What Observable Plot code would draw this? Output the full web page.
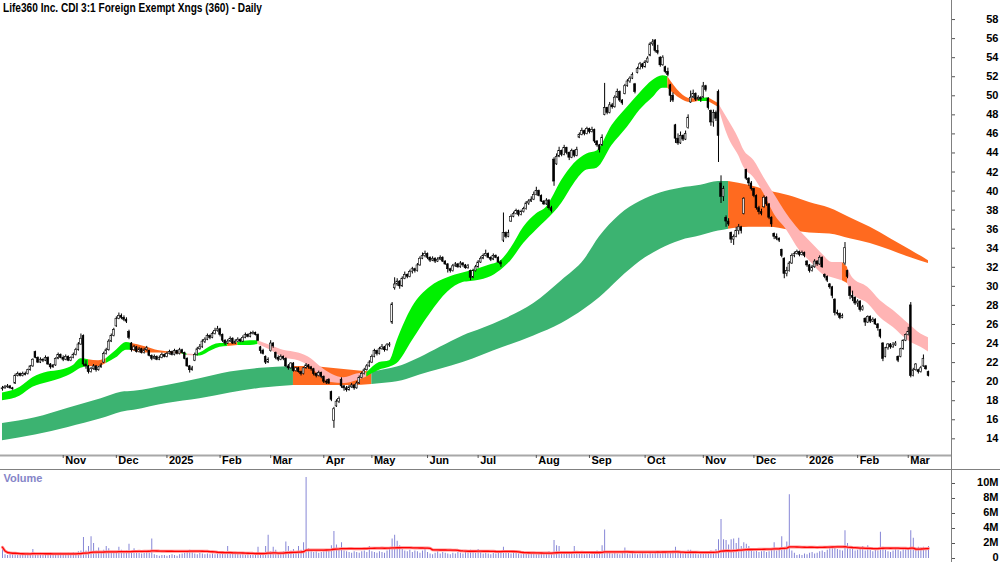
<!DOCTYPE html>
<html><head><meta charset="utf-8">
<script src="https://cdn.jsdelivr.net/npm/d3@7"></script>
<script src="https://cdn.jsdelivr.net/npm/@observablehq/plot@0.6"></script>
<style>
body{margin:0;background:#fff;}
#wrap{position:relative;width:1000px;height:562px;overflow:hidden;background:#fff;font-family:"Liberation Sans",Arial,sans-serif;}
#price,#vol{position:absolute;left:0;}
#price{top:0}
#vol{top:470px}
#title{position:absolute;left:0;top:0}
.vline{position:absolute;left:951px;top:0;width:1px;height:562px;background:#808080}
.hline{position:absolute;left:0;top:469px;width:1000px;height:1px;background:#808080}
</style></head><body>
<div id="wrap">
<div id="price"></div>
<div id="vol"></div>
<svg id="title" width="420" height="20"><text x="3" y="12" font-family="Liberation Sans, Arial, sans-serif" font-weight="bold" font-size="12" textLength="259" lengthAdjust="spacingAndGlyphs" fill="#000">Life360 Inc. CDI 3:1 Foreign Exempt Xngs (360) - Daily</text></svg>
<div class="vline"></div>
<div class="hline"></div>
</div>
<script>
// ---- calendar ----
const startDate = "2024-09-30";
const holidays = ["2024-12-25","2024-12-26","2025-01-01","2025-01-27","2025-04-18","2025-04-21","2025-04-25","2025-06-09","2025-12-25","2025-12-26","2026-01-01","2026-01-26"];
const monthShort = ["Jan","Feb","Mar","Apr","May","Jun","Jul","Aug","Sep","Oct","Nov","Dec"];

// ---- daily candles [open, high, low, close] ----
const candles = [
// Sep 30 2024 + Oct 2024
[19.2,19.5,19.0,19.3],[19.3,19.6,19.2,19.4],[19.4,19.7,19.3,19.5],[19.5,19.6,19.2,19.3],[19.3,19.4,19.1,19.2],
[19.8,20.8,19.7,20.6],[20.6,21.0,20.5,20.8],[20.8,20.9,20.5,20.6],[20.6,21.0,20.5,20.8],[20.8,21.0,20.6,20.7],
[20.8,21.3,20.7,21.2],[21.2,21.7,21.1,21.6],[21.6,22.4,21.5,22.3],[23.1,23.2,22.4,22.5],[22.5,22.6,21.9,22.0],
[22.0,22.5,21.9,22.3],[22.3,22.4,22.0,22.2],[22.2,22.7,22.1,22.5],[22.5,22.6,21.7,21.8],[21.8,21.9,21.3,21.5],
[21.5,21.8,21.4,21.7],[21.7,22.5,21.6,22.4],[22.4,23.0,22.3,22.8],[22.8,22.9,22.4,22.5],
// Nov 2024
[22.5,22.7,22.1,22.3],[22.3,22.8,22.2,22.6],[22.6,22.7,22.1,22.2],[22.2,22.6,22.1,22.5],[22.5,23.0,22.4,22.8],
[22.8,23.5,22.7,23.3],[23.3,24.1,23.2,23.9],[23.9,25.0,23.8,24.5],[24.8,24.9,21.6,21.8],[21.8,22.2,21.3,21.6],
[21.6,21.7,20.8,21.0],[21.0,21.5,20.9,21.3],[21.3,21.8,21.2,21.6],[21.6,21.7,21.0,21.2],[21.2,21.6,21.1,21.5],
[21.5,21.9,21.4,21.7],[22.0,23.1,21.9,22.9],[22.9,23.5,22.8,23.3],[23.3,24.4,23.2,24.2],[24.2,25.0,24.1,24.8],
[24.8,25.6,24.7,25.4],
// Dec 2024
[25.8,26.8,25.7,26.6],[26.6,27.2,26.5,26.9],[26.9,27.1,26.5,26.7],[26.7,26.9,26.3,26.5],[26.5,26.7,26.1,26.3],
[25.2,25.4,24.4,24.6],[24.0,24.1,23.1,23.3],[23.3,23.8,23.2,23.6],[23.6,23.7,23.0,23.1],[23.1,23.6,23.0,23.4],
[23.4,23.5,22.9,23.0],[23.0,23.5,22.9,23.3],[23.3,23.7,23.2,23.5],[23.2,23.3,22.6,22.7],[22.7,22.8,22.2,22.4],
[22.4,22.8,22.3,22.6],[22.6,22.7,22.2,22.3],[22.3,22.7,22.2,22.5],[22.5,23.0,22.4,22.8],[22.8,22.9,22.5,22.6],
// Jan 2025
[22.6,23.1,22.5,22.9],[22.9,23.3,22.8,23.1],[23.1,23.2,22.7,22.8],[22.8,23.4,22.7,23.2],[23.2,23.3,22.8,22.9],
[22.9,23.5,22.8,23.3],[23.3,23.4,22.9,23.0],[23.0,23.1,22.3,22.4],[22.4,22.5,21.5,21.6],[21.6,21.7,20.9,21.2],
[21.2,21.6,21.1,21.4],[22.2,23.0,22.1,22.8],[22.8,23.6,22.7,23.4],[23.4,23.9,23.3,23.6],[23.6,24.4,23.5,24.2],
[24.2,24.6,24.0,24.4],[24.4,25.0,24.3,24.8],[24.8,24.9,24.4,24.6],[24.6,25.2,24.5,25.0],[25.0,25.6,24.9,25.3],
[25.3,25.8,25.2,25.5],
// Feb 2025
[25.5,25.6,24.7,24.9],[24.9,25.0,24.1,24.3],[24.3,24.4,23.8,24.0],[24.0,24.4,23.9,24.2],[24.2,24.7,24.1,24.5],
[24.5,24.6,23.9,24.0],[24.0,24.4,23.9,24.2],[24.2,24.6,24.1,24.4],[24.4,24.5,24.1,24.2],[24.2,24.8,24.1,24.6],
[24.6,25.1,24.5,24.9],[24.9,25.0,24.6,24.7],[24.7,25.2,24.6,25.0],[25.0,25.3,24.9,25.1],[25.1,25.2,24.8,24.9],
[24.9,25.0,24.2,24.3],[23.6,23.7,22.9,23.2],[23.2,23.4,22.8,22.9],[22.6,22.7,21.8,22.0],[22.0,22.5,21.9,22.3],
// Mar 2025
[23.2,24.3,23.1,24.0],[24.0,24.1,23.5,23.7],[23.0,23.1,22.3,22.5],[22.5,22.7,22.1,22.3],[22.3,22.8,22.2,22.6],
[22.6,22.7,22.2,22.4],[22.4,22.5,21.5,21.6],[21.6,21.8,21.2,21.4],[21.4,22.0,21.3,21.9],[21.9,22.0,21.0,21.1],
[21.1,21.5,21.0,21.4],[21.4,21.5,20.9,21.0],[21.0,21.1,20.6,20.8],[20.8,21.5,20.7,21.4],[21.4,21.9,21.3,21.7],
[21.7,21.8,21.3,21.5],[21.5,21.6,21.1,21.3],[21.3,21.4,20.6,20.8],[20.8,20.9,20.4,20.6],[20.6,21.1,20.5,20.9],
[20.9,21.0,20.3,20.5],
// Apr 2025
[20.5,20.6,19.8,20.0],[20.0,20.2,19.7,19.9],[20.2,20.3,19.7,19.8],[18.9,19.0,17.9,18.1],[15.9,17.3,15.1,17.1],
[17.4,18.1,17.3,17.9],[17.9,18.4,17.7,18.2],[20.2,20.4,19.3,19.5],[19.5,19.6,19.0,19.3],[19.3,19.5,18.9,19.1],
[19.1,19.6,19.0,19.4],[19.4,19.8,19.3,19.6],[19.6,19.7,19.1,19.3],[19.3,20.0,19.2,19.8],[19.8,20.6,19.7,20.4],
[20.4,21.0,20.3,20.8],[20.8,21.4,20.7,21.2],[21.2,21.8,21.1,21.6],[21.6,22.2,21.5,22.0],
// May 2025
[22.0,22.8,21.9,22.6],[22.6,23.4,22.5,23.2],[23.2,23.3,22.7,22.9],[22.9,23.6,22.8,23.4],[23.4,23.9,23.3,23.6],
[23.6,23.7,23.1,23.3],[23.3,24.0,23.2,23.8],[23.8,24.1,23.6,23.9],[26.2,28.3,26.0,28.1],[29.8,30.9,29.6,30.2],
[30.2,30.8,30.0,30.5],[30.5,30.6,29.7,30.0],[30.0,31.0,29.9,30.8],[30.8,31.5,30.7,31.2],[31.2,31.3,30.8,31.0],
[31.0,31.7,30.9,31.5],[31.5,32.0,31.3,31.8],[31.8,31.9,31.4,31.6],[31.6,32.4,31.5,32.2],[32.2,33.1,32.1,32.9],
[32.9,33.5,32.8,33.2],[33.2,33.7,33.0,33.4],
// Jun 2025
[33.4,33.5,32.8,33.0],[33.0,33.1,32.5,32.7],[32.7,33.1,32.6,32.9],[32.9,33.0,32.4,32.6],[32.6,33.0,32.5,32.8],
[32.8,33.2,32.7,33.0],[33.0,33.1,32.5,32.6],[32.6,32.7,32.2,32.3],[32.3,32.4,31.4,31.8],[31.8,31.9,31.4,31.6],
[31.6,32.3,31.5,32.1],[32.1,32.5,32.0,32.3],[32.3,32.4,31.9,32.0],[32.0,32.6,31.9,32.4],[32.4,32.5,32.0,32.2],
[32.2,32.3,31.8,31.9],[31.9,32.3,31.8,32.1],[31.6,31.7,30.6,30.9],[30.9,31.8,30.8,31.6],[31.6,32.2,31.5,32.0],
// Jul 2025
[32.0,32.7,31.9,32.5],[32.5,33.1,32.4,32.9],[32.9,33.4,32.8,33.2],[33.2,33.8,33.1,33.4],[33.4,33.5,32.9,33.0],
[33.0,33.1,32.6,32.8],[32.8,33.4,32.7,33.2],[33.2,33.3,32.9,33.0],[33.0,33.1,32.4,32.5],[32.5,32.7,32.0,32.3],
[34.8,37.7,34.6,35.6],[35.6,35.7,35.0,35.2],[35.2,35.9,35.1,35.6],[36.8,37.5,36.7,37.3],[37.3,37.8,37.2,37.6],
[37.6,38.1,37.5,37.9],[37.9,38.0,37.3,37.5],[37.5,38.0,37.4,37.8],[37.8,38.3,37.7,38.1],[38.1,38.9,38.0,38.7],
[38.7,39.1,38.5,38.9],[38.9,39.4,38.8,39.1],[39.1,39.9,39.0,39.6],
// Aug 2025
[39.6,40.4,39.5,40.0],[40.0,40.1,39.4,39.5],[39.5,39.6,38.8,38.9],[38.9,39.0,38.5,38.6],[38.6,39.2,38.5,39.0],
[39.0,39.1,38.0,38.2],[38.2,38.4,37.7,37.9],[43.3,43.5,40.5,41.0],[42.8,43.9,42.7,43.6],[43.6,44.6,43.5,44.2],
[44.2,44.3,43.6,43.8],[43.8,44.8,43.7,44.5],[44.5,44.6,43.8,44.0],[44.0,44.1,43.2,43.5],[43.5,44.4,43.4,44.2],
[44.2,44.3,43.5,43.7],[43.7,44.6,43.6,44.3],[45.6,46.1,45.5,45.9],[45.9,46.6,45.8,46.3],[46.3,46.4,45.8,46.0],
[46.0,46.7,45.9,46.5],
// Sep 2025
[46.5,46.6,46.0,46.2],[46.2,46.7,46.1,46.4],[46.4,46.5,45.0,45.2],[45.2,45.3,44.6,44.8],[44.8,44.9,44.0,44.3],
[44.8,45.9,44.7,45.6],[48.0,51.3,47.9,48.7],[48.7,48.8,48.0,48.2],[48.2,49.3,48.1,49.0],[49.0,49.2,48.6,48.8],
[48.8,50.0,48.7,49.8],[49.8,50.7,49.7,50.4],[50.4,50.5,49.3,49.5],[49.5,49.6,49.0,49.2],[50.2,51.2,50.1,51.0],
[51.0,51.7,50.9,51.5],[51.5,52.0,51.3,51.8],[51.8,52.4,51.7,52.2],[51.2,51.3,50.2,50.4],[52.4,53.0,52.3,52.8],
[52.8,53.5,52.7,53.3],[53.3,53.4,52.8,53.0],
// Oct 2025
[53.0,53.7,52.9,53.5],[53.5,54.1,53.4,53.9],[54.2,55.6,54.1,55.4],[55.4,55.9,55.2,55.6],[55.8,55.9,54.5,54.7],
[54.7,55.3,54.3,54.5],[54.0,54.1,53.0,53.2],[53.2,54.2,53.1,54.0],[53.0,53.1,52.3,52.5],[52.5,52.9,52.0,52.2],
[51.1,51.2,49.3,50.0],[50.0,50.3,49.3,49.5],[46.9,47.0,45.0,45.5],[45.5,46.0,44.8,45.0],[45.0,46.2,44.9,45.8],
[45.8,45.9,45.2,45.4],[45.4,46.3,45.3,46.0],[46.6,48.0,46.5,47.7],[49.3,50.5,49.2,49.8],[49.8,50.6,49.7,50.2],
[50.2,50.3,49.4,49.6],[49.6,50.0,49.5,49.8],[49.8,49.9,49.3,49.6],
// Nov 2025
[49.8,51.4,49.7,51.0],[51.0,51.1,50.4,50.6],[49.7,49.8,48.5,48.7],[48.4,48.5,46.8,47.2],[47.2,48.5,46.7,48.2],
[48.2,48.4,47.3,47.6],[50.4,50.6,43.0,45.8],[40.8,41.6,38.7,39.4],[39.4,40.5,38.9,40.2],[37.2,37.4,36.2,36.8],
[36.8,37.1,36.3,36.5],[35.6,35.7,34.5,34.9],[34.9,35.4,34.3,35.2],[35.2,36.2,35.1,35.8],[35.8,36.5,35.4,36.2],
[36.2,36.3,35.5,35.8],[37.6,39.3,37.5,39.2],[42.2,42.3,41.1,41.3],[41.3,41.4,40.5,40.8],[40.8,41.0,40.0,40.2],
// Dec 2025
[40.2,40.3,39.3,39.5],[39.5,39.6,38.0,38.2],[38.2,38.4,37.5,37.8],[37.8,38.1,37.4,37.6],[38.3,39.5,38.2,39.3],
[39.3,39.4,38.4,38.6],[38.6,38.7,37.0,37.2],[37.2,37.3,36.2,36.5],[35.5,35.6,34.9,35.2],[35.2,35.5,34.8,35.0],
[35.0,35.1,34.6,34.8],[33.8,33.9,33.0,33.2],[32.9,33.0,30.8,31.3],[31.3,32.0,31.0,31.6],[31.6,32.6,31.5,32.4],
[32.4,33.4,32.3,33.2],[33.2,33.6,33.0,33.4],[33.4,33.8,33.3,33.6],[33.6,33.7,33.1,33.3],[33.3,33.7,33.2,33.5],
[33.5,33.6,33.0,33.2],
// Jan 2026
[32.6,32.7,32.0,32.2],[32.2,32.3,31.4,31.6],[31.6,32.2,31.5,32.0],[32.0,32.8,31.9,32.6],[32.6,32.7,32.1,32.3],
[32.3,33.2,32.2,33.0],[33.0,33.1,31.9,32.0],[31.2,31.3,30.8,31.0],[31.0,31.1,30.4,30.6],[30.2,30.3,29.7,29.9],
[29.9,30.0,28.7,29.0],[28.6,28.7,26.9,27.2],[27.2,27.5,26.9,27.1],[27.1,27.2,26.5,26.7],[26.7,27.1,26.6,26.9],
[32.4,34.6,32.2,34.0],[31.6,31.7,30.8,31.0],[29.9,30.0,28.6,29.0],[29.0,29.5,28.4,28.8],[28.8,28.9,28.0,28.2],
// Feb 2026
[28.2,28.6,27.8,28.4],[28.4,28.5,27.3,27.5],[27.5,28.0,27.4,27.8],[26.6,26.7,25.8,26.2],[26.2,26.9,26.1,26.8],
[26.8,26.9,26.1,26.3],[26.3,26.7,26.2,26.5],[26.5,26.6,25.9,26.0],[26.0,26.1,25.3,25.6],[25.4,25.5,24.5,24.7],
[24.0,24.1,22.1,22.4],[22.6,23.6,22.5,23.5],[23.5,24.0,23.3,23.9],[23.9,24.0,23.4,23.6],[23.6,24.1,23.5,23.8],
[23.8,24.2,23.7,24.0],[22.6,22.7,22.0,22.2],[22.6,23.5,22.5,23.4],[23.4,24.4,23.3,24.3],[24.3,25.0,24.2,24.9],
// Mar 2026
[24.9,25.7,24.8,25.2],[28.0,28.3,20.4,20.6],[20.6,21.4,20.5,21.2],[21.2,21.9,21.1,21.8],[21.2,21.3,20.8,21.0],
[21.0,21.6,20.9,21.4],[21.6,22.8,21.5,22.4],[21.6,21.7,21.2,21.3],[21.0,21.1,20.5,20.6]
];

// ---- daily volume, millions ----
const volumes = [
1.5,0.5,0.4,0.6,0.5,0.7,0.5,0.4,0.6,0.5,0.6,0.5,1.2,0.6,0.5,0.7,0.6,0.5,0.6,0.7,0.5,0.6,0.5,0.7,
0.6,0.5,0.7,0.6,0.8,0.7,0.9,1.0,2.8,1.0,1.6,2.9,2.0,1.0,1.4,0.9,1.1,1.6,1.3,0.9,0.8,
0.9,1.5,1.1,0.8,1.0,1.9,1.0,1.3,0.8,0.7,0.6,0.7,0.8,0.7,2.6,0.5,0.4,0.3,0.4,0.4,
0.3,0.4,0.5,0.4,0.3,0.5,0.6,0.7,0.9,1.1,0.8,0.6,0.5,0.7,0.6,0.5,0.6,0.5,0.6,0.5,0.6,
0.7,0.6,0.5,1.6,0.8,0.6,0.7,0.6,0.5,0.5,0.4,0.5,0.4,0.5,0.6,1.5,0.7,0.8,1.6,3.1,
0.9,1.5,1.1,0.8,0.7,0.9,2.2,1.6,1.0,1.2,0.9,1.6,1.1,2.1,10.8,1.3,0.9,0.8,0.9,0.7,0.8,
0.9,1.0,1.2,1.7,3.6,1.8,1.3,2.1,1.0,0.9,0.8,0.7,0.9,0.8,0.7,0.9,1.0,0.8,1.6,
0.9,0.8,0.7,0.9,0.8,0.7,1.0,1.2,2.6,3.1,2.3,1.7,1.2,1.0,0.9,1.1,0.8,1.0,0.9,0.7,1.0,1.3,
0.8,0.6,0.5,0.7,0.9,0.6,0.8,0.7,0.6,0.5,0.7,0.6,0.8,0.7,0.6,0.9,0.7,1.1,0.8,0.7,
1.2,0.8,0.6,0.7,0.6,0.5,0.7,0.6,0.8,0.7,1.5,0.9,0.7,0.6,0.8,0.7,0.6,0.5,0.7,0.6,0.5,0.6,0.8,
0.5,0.6,0.7,0.6,0.8,0.9,0.7,2.4,1.7,1.6,0.9,0.7,0.8,0.6,0.7,1.6,0.8,0.6,0.7,0.5,0.6,
0.6,0.5,0.7,1.0,0.9,1.7,3.8,0.9,0.7,0.6,0.7,0.6,0.5,0.7,1.4,0.6,0.5,0.7,0.6,0.5,0.6,0.7,
0.6,0.5,0.7,0.6,0.8,0.7,0.6,0.7,0.9,0.8,0.9,1.0,1.5,0.8,0.7,0.6,0.7,1.1,1.1,0.7,0.6,0.5,0.6,
0.8,0.7,0.9,1.0,0.9,1.2,2.5,5.2,2.5,2.4,1.8,2.5,2.6,2.0,2.7,1.6,2.1,1.9,1.6,1.2,
0.9,1.0,0.8,0.9,1.0,0.8,0.9,1.1,2.1,1.0,1.2,2.9,1.4,2.2,8.5,1.0,0.7,0.4,0.5,0.4,0.6,
0.5,0.7,0.8,0.6,0.7,0.9,1.0,0.8,1.1,1.5,1.3,1.6,1.2,1.1,1.0,3.7,2.0,1.3,1.2,1.0,
1.1,1.2,1.6,1.0,1.7,1.3,0.9,1.2,1.0,3.5,1.5,1.1,0.9,0.8,1.0,1.2,1.1,0.9,1.3,1.2,
1.2,3.7,2.7,1.4,1.5,1.4,1.5,1.4,1.6
];

// ---- moving-average ribbons: [day index, lower, upper, state of the following stretch] ----
const shortBand = [
[0,18.0,18.8,"up"],[7,18.5,19.4,"up"],[12,19.4,20.4,"up"],[18,19.9,21.0,"up"],[23,20.3,21.2,"up"],
[28,20.9,21.7,"up"],[31,21.4,22.4,"up"],[34,21.6,22.3,"down"],[38,21.6,22.2,"down"],[41,21.9,22.4,"up"],
[45,22.5,23.3,"up"],[49,23.3,24.1,"up"],[51,23.3,24.0,"down"],[56,23.0,23.7,"down"],[62,23.0,23.25,"down"],
[68,22.95,23.1,"down"],[71,22.9,23.05,"up"],[73,22.75,22.9,"weak"],[76,22.7,22.85,"up"],[78,22.7,23.0,"up"],
[83,23.3,23.8,"up"],[86,23.6,24.0,"up"],[89,23.7,24.0,"down"],[93,23.8,24.1,"up"],[98,23.8,24.3,"up"],
[101,23.9,24.3,"weak"],[106,23.3,23.8,"weak"],[111,22.5,23.3,"weak"],[117,22.2,23.0,"weak"],[122,21.5,22.4,"weak"],
[126,20.4,21.5,"weak"],[130,19.9,20.8,"weak"],[135,19.8,20.4,"weak"],[140,20.1,20.8,"weak"],[144,20.5,20.9,"up"],
[149,21.2,22.0,"up"],[153,21.5,22.2,"up"],[156,21.9,24.3,"up"],[162,24.3,27.8,"up"],[169,27.1,29.9,"up"],
[176,29.4,30.9,"up"],[182,30.4,31.4,"up"],[185,30.5,31.6,"up"],[192,30.9,32.2,"up"],[197,31.7,32.7,"up"],
[201,32.7,34.0,"up"],[206,34.5,36.2,"up"],[211,35.9,37.6,"up"],[215,36.9,38.3,"up"],[221,38.7,41.1,"up"],
[226,40.8,42.9,"up"],[231,42.2,43.9,"up"],[235,42.4,44.2,"up"],[241,44.8,46.9,"up"],[247,46.7,48.8,"up"],
[252,48.5,50.3,"up"],[257,49.8,51.6,"up"],[261,50.8,52.1,"up"],[263,50.8,52.0,"down"],[268,49.7,50.3,"down"],
[272,49.3,49.7,"down"],[275,49.4,49.7,"up"],[279,49.4,49.8,"down"],[283,48.8,49.2,"weak"],[287,45.6,47.4,"weak"],
[291,43.7,45.5,"weak"],[293,42.5,44.3,"weak"],[297,41.4,43.2,"weak"],[301,39.7,41.4,"weak"],[305,37.6,39.7,"weak"],
[310,35.9,37.6,"weak"],[315,33.8,35.9,"weak"],[320,32.4,34.5,"weak"],[324,31.3,33.4,"weak"],[328,30.9,32.5,"weak"],
[332,30.6,32.5,"down"],[334,30.3,32.0,"weak"],[336,29.2,30.9,"weak"],[342,28.2,29.9,"weak"],[347,26.7,28.5,"weak"],
[352,25.7,27.5,"weak"],[358,24.3,26.1,"weak"],[363,23.6,25.0,"weak"],[366,23.1,24.6,"weak"]
];
const longBand = [
[0,13.8,15.6,"up"],[13,14.4,16.2,"up"],[26,15.2,17.2,"up"],[39,16.1,18.2,"up"],[47,16.8,18.9,"up"],
[52,17.0,19.0,"up"],[65,17.7,19.6,"up"],[78,18.2,20.3,"up"],[90,18.8,21.0,"up"],[102,19.3,21.4,"up"],
[115,19.6,21.6,"down"],[122,19.6,21.6,"down"],[130,19.6,21.4,"down"],[138,19.6,21.2,"down"],[146,19.7,21.0,"up"],
[150,19.8,21.2,"up"],[158,20.1,21.7,"up"],[165,20.7,22.5,"up"],[173,21.3,23.6,"up"],[182,22.0,24.8,"up"],
[190,22.8,25.6,"up"],[198,23.6,26.5,"up"],[210,24.8,28.2,"up"],[221,26.1,30.6,"up"],[230,27.6,32.8,"up"],
[236,28.8,35.2,"up"],[244,30.8,37.5,"up"],[252,32.6,38.9,"up"],[260,33.9,39.8,"up"],[268,34.8,40.3,"up"],
[276,35.3,40.6,"up"],[283,35.8,41.0,"up"],[287,36.0,41.0,"down"],[295,36.2,40.6,"down"],[303,36.2,40.0,"down"],
[311,35.9,39.5,"down"],[319,35.6,38.8,"down"],[327,35.5,38.2,"down"],[335,35.0,37.2,"down"],[343,34.5,36.2,"down"],
[351,33.8,35.0,"down"],[359,33.0,33.8,"down"],[366,32.4,32.7,"down"]
];

const priceTicks = [14,16,18,20,22,24,26,28,30,32,34,36,38,40,42,44,46,48,50,52,54,56,58];
const volTicks = [0,2,4,6,8,10];
const volTickLabels = ["0","2M","4M","6M","8M","10M"];

// ---- styling maps ----
const shortColors = {up:"#00f000", down:"#ff6a1f", weak:"#ffb4b4"};
const longColors = {up:"#3cb371", down:"#ff6a1f"};
const FONT = "Liberation Sans, Arial, sans-serif";

// ---- build tables ----
const holidaySet = new Set(holidays);
const dates = [];
for (let t = Date.parse(startDate + "T00:00:00Z"); dates.length < candles.length; t += 86400000) {
  const d = new Date(t);
  const wd = d.getUTCDay();
  if (wd !== 0 && wd !== 6 && !holidaySet.has(d.toISOString().slice(0,10))) dates.push(d);
}
const rows = candles.map(([o,h,l,c], i) => ({i, date: dates[i], o, h, l, c}));
const volRows = volumes.map((v, i) => ({i, v}));
const monthTicks = [];
dates.forEach((d, i) => {
  if (i > 5 && d.getUTCMonth() !== dates[i-1].getUTCMonth())
    monthTicks.push({i, label: d.getUTCMonth() === 0 ? String(d.getUTCFullYear()) : monthShort[d.getUTCMonth()]});
});
function segments(band, colors) {
  const out = []; let seg = 0;
  for (let k = 0; k < band.length - 1; k++) {
    if (k > 0 && band[k][3] !== band[k-1][3]) seg++;
    const fill = colors[band[k][3]];
    out.push({seg, i: band[k][0], lo: band[k][1], hi: band[k][2], fill});
    out.push({seg, i: band[k+1][0], lo: band[k+1][1], hi: band[k+1][2], fill});
  }
  return out;
}
const shortRows = segments(shortBand, shortColors);
const longRows = segments(longBand, longColors);

const xDomain = [-0.79, 375.1];

const price = Plot.plot({
  width: 1000, height: 470,
  marginLeft: 0, marginRight: 49, marginTop: 0, marginBottom: 15,
  x: {domain: xDomain},
  y: {domain: [12.25, 60]},
  color: {type: "identity"},
  style: {fontFamily: FONT, background: "transparent", overflow: "visible"},
  marks: [
    Plot.areaY(longRows, {x: "i", y1: "lo", y2: "hi", z: "seg", fill: "fill", curve: "monotone-x"}),
    Plot.areaY(shortRows, {x: "i", y1: "lo", y2: "hi", z: "seg", fill: "fill", curve: "monotone-x"}),
    Plot.ruleX(rows, {x: "i", y1: "l", y2: "h", stroke: "#000", strokeWidth: 1}),
    Plot.rect(rows, {x1: d => d.i - 0.34, x2: d => d.i + 0.34,
      y1: d => Math.min(d.o, d.c), y2: d => Math.max(d.o, d.c),
      fill: d => d.c >= d.o ? "#ffffff" : "#000000", stroke: "#000", strokeWidth: 0.6}),
    Plot.ruleY([12.25], {stroke: "#a8a8a8", strokeWidth: 2}),
    Plot.axisX(monthTicks.map(d => d.i), {anchor: "bottom", tickSize: 3, tickFormat: () => "", stroke: "#555", label: null}),
    Plot.text(monthTicks, {x: "i", text: "label", frameAnchor: "bottom", dy: 8, dx: 2, textAnchor: "start",
      fontWeight: "bold", fontSize: 11, fill: "#000"}),
    Plot.axisY(priceTicks, {anchor: "right", tickSize: 3, tickFormat: () => "", stroke: "#555", label: null}),
    Plot.text(priceTicks, {y: d => d, text: d => String(d), frameAnchor: "right", dx: 47, textAnchor: "end",
      fontWeight: "bold", fontSize: 11, fill: "#000"})
  ]
});
document.getElementById("price").appendChild(price);

const vol = Plot.plot({
  width: 1000, height: 92,
  marginLeft: 0, marginRight: 49, marginTop: 0, marginBottom: 0,
  x: {domain: xDomain, axis: null},
  y: {domain: [-0.533, 11.733]},
  style: {fontFamily: FONT, background: "transparent", overflow: "visible"},
  marks: [
    Plot.ruleX(volRows, {x: "i", y1: d => 0, y2: "v", stroke: "#8686d6", strokeWidth: 1}),
    Plot.lineY(volRows, Plot.windowY({k: 50, anchor: "end"}, {x: "i", y: "v", stroke: "#ff9090", strokeWidth: 3})),
    Plot.lineY(volRows, Plot.windowY({k: 50, anchor: "end"}, {x: "i", y: "v", stroke: "#ff0000", strokeWidth: 1.3})),
    Plot.axisY(volTicks, {anchor: "right", tickSize: 3, tickFormat: () => "", stroke: "#555", label: null}),
    Plot.text(volTicks, {y: d => d, text: (d, k) => volTickLabels[k], frameAnchor: "right", dx: 47, dy: -1.5, textAnchor: "end",
      fontWeight: "bold", fontSize: 11, fill: "#000"}),
    Plot.text(["Volume"], {frameAnchor: "top-left", dx: 3, dy: 4, text: d => d, fill: "#8585c8", fontWeight: "bold", fontSize: 11})
  ]
});
document.getElementById("vol").appendChild(vol);
</script>
</body></html>
